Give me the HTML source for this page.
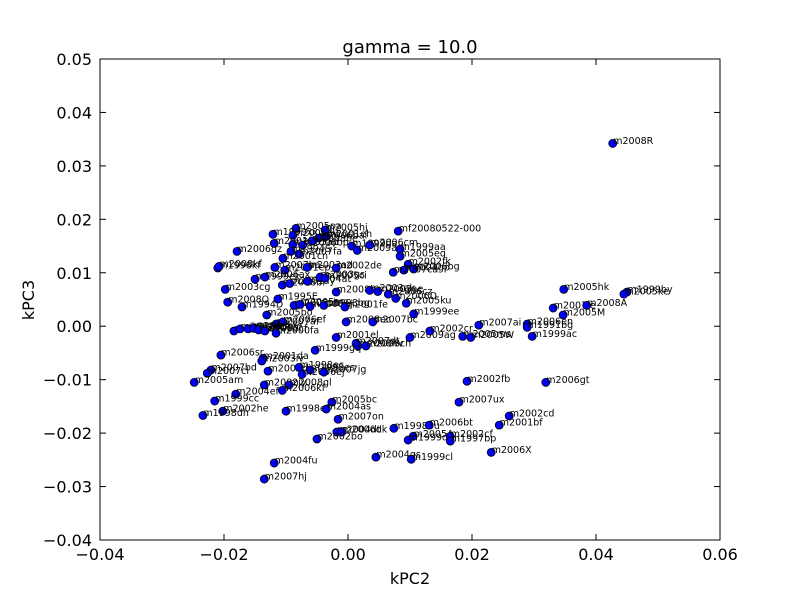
<!DOCTYPE html>
<html><head><meta charset="utf-8"><style>
html,body{margin:0;padding:0;background:#fff;}
svg{display:block;font-family:"DejaVu Sans","Liberation Sans",sans-serif;}
</style></head><body>
<svg id="chart" width="800" height="600">
<rect width="800" height="600" fill="#fff"/>
<text x="410" y="53" font-size="18" text-anchor="middle">gamma = 10.0</text>
<text x="410" y="584" font-size="16" text-anchor="middle">kPC2</text>
<text x="34" y="300" font-size="16" text-anchor="middle" transform="rotate(-90 34 300)">kPC3</text>
<g id="marks"></g>
<rect x="100" y="59" width="620" height="481" fill="none" stroke="#000" stroke-width="1"/>
</svg>
<script>
const names = ["m2008R","mf20080522-000","m2005pa","m2005hj","m2001eh","m1999xx","m2006au","m2006bai","m2001fb","m2003ap","m2008be","m2006bp","m2006gz","m1994S","m2007fa","m2001cn","m1999da","m2009ad","m2006cm","m1999aa","m2005eq","m2002fk","m2004gp","m2006bg","m2007ca","m1996kf","m2008kf","m2007ba","m2001ep","m2003ad","m2002de","m1999ek","m2006ax","m2008bf","m2001ay","m2004at","m2003gs","m2005ci","m2003cg","m2008hs","m2003ak","m2003ae","m2006cz","m2008Q","m1994D","m1995E","m2005ch","m2005mz","m2008ej","m1998bg","m2001fe","m2006D","m2005ku","m1999ee","m2005bo","m2007af","m2006ef","m2008ec","m2007bc","m2000cx","m2001bt","m2006le","m2003hv","m2002bf","m2005cf","m2000fa","m2001el","m2007dt","m2008hv","m2008ch","m2009ag","m2002cr","m2005ms","m2005W","m2007ai","m2006en","m1991bg","m1999ac","m2005hk","m2007le","m2008A","m2005M","m1999by","m2005ke","m2006sr","m2001da","m2003iv","m1999gq","m2007bd","m2007cl","m2005am","m2002dj","m1998ec","m1998es","m2006ej","m2007jg","m2002jy","m2008gl","m2006kf","m2004ef","m1999cc","m2002he","m1998dh","m1998et","m2005bc","m2004as","m2007on","m2004dt","m2006dk","m2002bo","m1998bu","m2006bt","m2005A","m1999da","m2002cf","m1997bp","m2004gs","m1999cl","m2004fu","m2007hj","m2002fb","m2007ux","m2002cd","m2001bf","m2006X","m2006gt"];
const xVals = [0.0427,0.0081,-0.0084,-0.0037,-0.0035,-0.0121,-0.0089,-0.0047,-0.0119,-0.0089,-0.0058,-0.0073,-0.0179,-0.0092,-0.0079,-0.0105,0.0006,0.0015,0.0035,0.0084,0.0084,0.0097,0.0090,0.0106,0.0073,-0.0210,-0.0208,-0.0118,-0.0102,-0.0066,-0.0019,-0.0150,-0.0134,-0.0106,-0.0094,-0.0065,-0.0045,-0.0037,-0.0198,-0.0019,0.0035,0.0048,0.0065,-0.0194,-0.0171,-0.0113,-0.0087,-0.0077,-0.0061,-0.0039,-0.0005,0.0077,0.0094,0.0106,-0.0131,-0.0116,-0.0105,-0.0003,0.0040,-0.0184,-0.0174,-0.0161,-0.0152,-0.0144,-0.0134,-0.0116,-0.0019,0.0013,0.0016,0.0029,0.0100,0.0132,0.0185,0.0198,0.0211,0.0289,0.0289,0.0297,0.0348,0.0331,0.0385,0.0347,0.0450,0.0445,-0.0205,-0.0137,-0.0139,-0.0053,-0.0221,-0.0227,-0.0248,-0.0129,-0.0079,-0.0061,-0.0074,-0.0039,-0.0135,-0.0095,-0.0106,-0.0181,-0.0215,-0.0202,-0.0234,-0.0100,-0.0026,-0.0035,-0.0016,-0.0018,-0.0010,-0.0050,0.0074,0.0131,0.0105,0.0097,0.0165,0.0165,0.0045,0.0102,-0.0119,-0.0135,0.0192,0.0179,0.0260,0.0244,0.0231,0.0319];
const yVals = [0.0342,0.0178,0.0183,0.0180,0.0168,0.0172,0.0170,0.0165,0.0155,0.0153,0.0159,0.0152,0.0140,0.0140,0.0135,0.0127,0.0150,0.0142,0.0152,0.0144,0.0131,0.0116,0.0105,0.0107,0.0101,0.0109,0.0112,0.0110,0.0105,0.0110,0.0109,0.0088,0.0092,0.0077,0.0080,0.0084,0.0092,0.0090,0.0069,0.0064,0.0067,0.0065,0.0060,0.0045,0.0036,0.0051,0.0039,0.0041,0.0037,0.0039,0.0036,0.0052,0.0043,0.0023,0.0021,0.0004,0.0008,0.0008,0.0008,-0.0009,-0.0005,-0.0005,-0.0004,-0.0007,-0.0009,-0.0013,-0.0021,-0.0032,-0.0037,-0.0037,-0.0021,-0.0009,-0.0019,-0.0021,0.0002,0.0004,-0.0002,-0.0019,0.0069,0.0034,0.0039,0.0021,0.0064,0.0060,-0.0054,-0.0060,-0.0065,-0.0045,-0.0082,-0.0088,-0.0105,-0.0084,-0.0077,-0.0082,-0.0090,-0.0086,-0.0110,-0.0110,-0.0120,-0.0127,-0.0140,-0.0159,-0.0167,-0.0159,-0.0142,-0.0155,-0.0174,-0.0198,-0.0198,-0.0211,-0.0191,-0.0185,-0.0206,-0.0213,-0.0206,-0.0215,-0.0245,-0.0249,-0.0256,-0.0286,-0.0103,-0.0142,-0.0168,-0.0185,-0.0236,-0.0105];
const xTicks = [-0.04,-0.02,0.00,0.02,0.04,0.06];
const xTickLabels = ["\u22120.04","\u22120.02","0.00","0.02","0.04","0.06"];
const yTicks = [0.05,0.04,0.03,0.02,0.01,0.00,-0.01,-0.02,-0.03,-0.04];
const yTickLabels = ["0.05","0.04","0.03","0.02","0.01","0.00","\u22120.01","\u22120.02","\u22120.03","\u22120.04"];

const L=100,R=720,T=59,B=540;
const xMin=-0.04,xMax=0.06,yMin=-0.04,yMax=0.05;
function sx(v){return L+(v-xMin)/(xMax-xMin)*(R-L);}
function sy(v){return B-(v-yMin)/(yMax-yMin)*(B-T);}
const NS="http://www.w3.org/2000/svg";
const svg=document.getElementById('chart');
const g=document.getElementById('marks');
function mk(tag,attrs,parent){const e=document.createElementNS(NS,tag);for(const k in attrs)e.setAttribute(k,attrs[k]);(parent||svg).appendChild(e);return e;}

xTicks.forEach((v,i)=>{
  const x=sx(v);
  const t1=mk('line',{x1:x,x2:x,y1:B,y2:B-6,stroke:'#000'});
  
  
  const t2=mk('line',{x1:x,x2:x,y1:T,y2:T+6,stroke:'#000'});
  
  
  const tx=mk('text',{x:x,y:B+20,'font-size':16,'text-anchor':'middle'});
  tx.textContent=xTickLabels[i];
  
  
});
yTicks.forEach((v,i)=>{
  const y=sy(v);
  const t1=mk('line',{x1:L,x2:L+6,y1:y,y2:y,stroke:'#000'});
  
  
  const t2=mk('line',{x1:R,x2:R-6,y1:y,y2:y,stroke:'#000'});
  
  
  const tx=mk('text',{x:L-8,y:y+6,'font-size':16,'text-anchor':'end'});
  tx.textContent=yTickLabels[i];
  
  
});
names.forEach((n,i)=>{
  const x=sx(xVals[i]),y=sy(yVals[i]);
  const c=mk('circle',{cx:x,cy:y,r:4,fill:'#0000ff',stroke:'#000','stroke-width':0.8},g);
  
  
  const t=mk('text',{x:x+0.5,y:y+0.5,'font-size':9.5,fill:'#000'},g);
  t.textContent=n;
  
  
});
</script>
</body></html>
